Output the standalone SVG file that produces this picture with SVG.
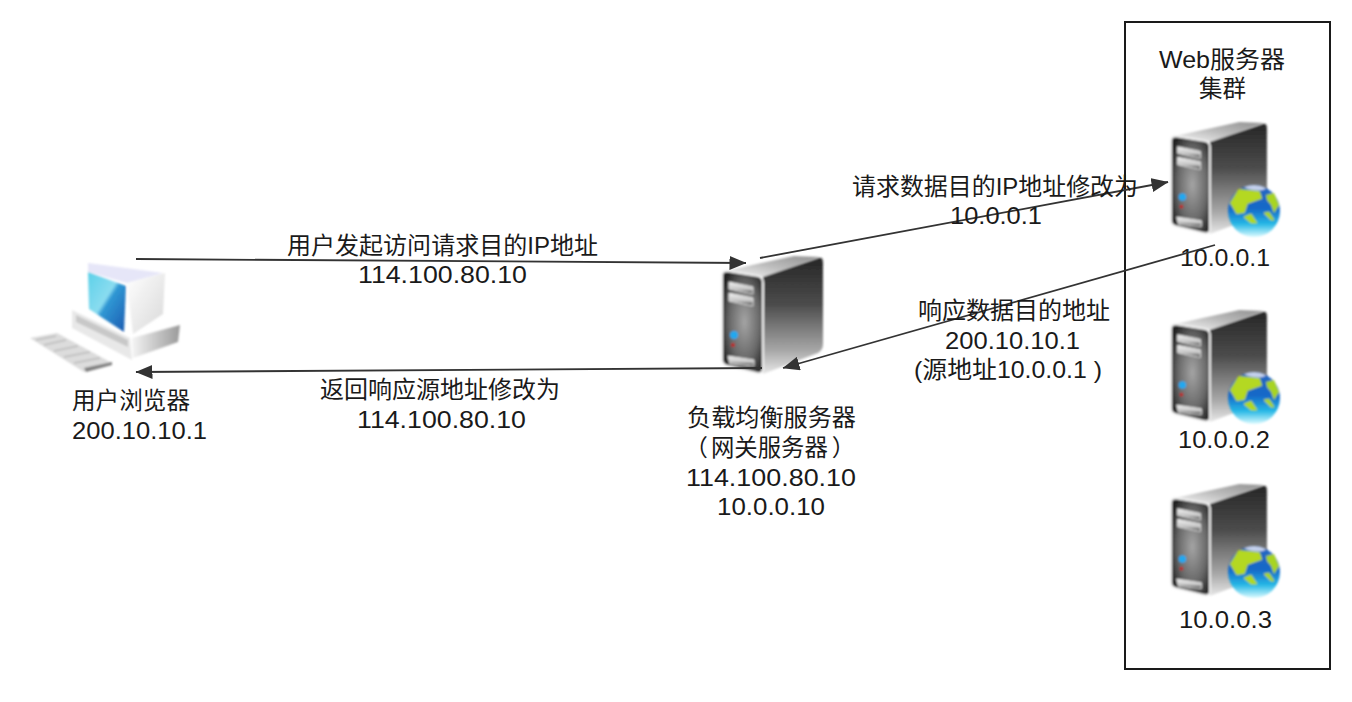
<svg xmlns="http://www.w3.org/2000/svg" width="1352" height="702" viewBox="0 0 1352 702">
<style>
text{font-family:"Liberation Sans","Noto Sans CJK SC",sans-serif;font-size:23.4px;fill:#1a1a1a}
.c{fill:none;stroke:#333;stroke-width:1.8;marker-end:url(#ah)}
</style>
<defs>
<marker id="ah" markerUnits="userSpaceOnUse" markerWidth="17" markerHeight="14" refX="16.5" refY="7" orient="auto"><path d="M0,0L17,7L0,14Z" fill="#333"/></marker>
<filter id="b" x="-10%" y="-10%" width="120%" height="120%"><feGaussianBlur stdDeviation="0.9"/></filter>
<filter id="b2" x="-10%" y="-10%" width="120%" height="120%"><feGaussianBlur stdDeviation="1.1"/></filter>
<linearGradient id="top" x1="0" y1="1" x2="1" y2="0"><stop offset="0" stop-color="#f8f8f8"/><stop offset=".5" stop-color="#bcbcbc"/><stop offset="1" stop-color="#909090"/></linearGradient>
<linearGradient id="side" x1="0" y1="0" x2="0" y2="1"><stop offset="0" stop-color="#262626"/><stop offset=".4" stop-color="#4c4c4c"/><stop offset=".8" stop-color="#a8a8a8"/><stop offset="1" stop-color="#e8e8e8"/></linearGradient>
<radialGradient id="front" cx=".55" cy=".5" r=".62"><stop offset="0" stop-color="#a4a4a4"/><stop offset=".6" stop-color="#686868"/><stop offset="1" stop-color="#222"/></radialGradient>
<linearGradient id="bar" x1="0" y1="0" x2="0" y2="1"><stop offset="0" stop-color="#f4f4f4"/><stop offset=".6" stop-color="#c4c4c4"/><stop offset="1" stop-color="#2a2a2a"/></linearGradient>
<linearGradient id="sea" x1="0" y1="0" x2="0" y2="1"><stop offset="0" stop-color="#2a68c0"/><stop offset=".45" stop-color="#1468c8"/><stop offset=".75" stop-color="#26b8e6"/><stop offset="1" stop-color="#dcfbff"/></linearGradient>
<linearGradient id="scr" x1="0" y1="0" x2="1" y2="1"><stop offset="0" stop-color="#5cd0e8"/><stop offset=".45" stop-color="#8adcf0"/><stop offset=".52" stop-color="#3098d4"/><stop offset="1" stop-color="#1a58b0"/></linearGradient>
<linearGradient id="base" x1="0" y1="0" x2="1" y2="0"><stop offset="0" stop-color="#f4f4f4"/><stop offset="1" stop-color="#9a9a9a"/></linearGradient>
<linearGradient id="mon" x1="0" y1="0" x2="1" y2="1"><stop offset="0" stop-color="#fff"/><stop offset="1" stop-color="#d8d8d8"/></linearGradient>
<g id="srv" filter="url(#b)">
<path d="M3,15L72,0L98,1L42,21Z" fill="url(#top)"/>
<path d="M41,21L97,2Q101,1 101,7L101,88Q101,94 96,97L41,118Z" fill="url(#side)"/>
<path d="M5,15L36,20Q41,21 41,27L41,112Q41,118 35,117L6,110Q0,109 0,103L0,20Q0,15 5,15Z" fill="url(#front)" stroke="#f0f0f0" stroke-width="2"/>
<path d="M7,26L31,31L31,38L7,33Z" fill="url(#bar)" stroke="#ddd" stroke-width="1" stroke-linejoin="round"/>
<path d="M7,37L31,42L31,50L7,45Z" fill="url(#bar)" stroke="#ddd" stroke-width="1" stroke-linejoin="round"/>
<path d="M6,100L32,104L32,110L8,108Z" fill="url(#bar)" stroke="#ddd" stroke-width="1" stroke-linejoin="round"/>
<circle cx="12" cy="79" r="4" fill="#20a8f0"/>
<circle cx="11" cy="89" r="2" fill="#c02020"/>
</g>
<g id="globe" filter="url(#b)">
<circle r="26" fill="url(#sea)"/>
<path d="M-23,-8L-15,-21L5,-19L7,-13L-7,-8L-10,1L-17,2Z" fill="#b4d820" stroke="#b4d820" stroke-linejoin="round" stroke-width="2"/>
<path d="M12,-16L20,-18L25,-6L20,2L17,-6L13,-11Z" fill="#a8d420"/>
<path d="M-10,6L-3,3L3,12L-3,12Z" fill="#b0d820" stroke="#b0d820" stroke-linejoin="round"/>
<path d="M10,2L15,1L20,9L17,9Z" fill="#a8d428" stroke="#a8d428" stroke-linejoin="round"/>
<path d="M-10,-24A26,26 0 0 1 12,-23C8,-19 -4,-20 -10,-24Z" fill="#c4d0ec"/>
</g>
</defs>
<rect width="1352" height="702" fill="#fff"/>
<g id="web-cluster"><rect x="1125" y="22" width="205" height="647" fill="none" stroke="#1a1a1a" stroke-width="2"/>
<text x="1159" y="68" textLength="126" lengthAdjust="spacingAndGlyphs">Web服务器</text>
<text x="1199" y="97" textLength="47" lengthAdjust="spacingAndGlyphs">集群</text></g>
<g id="browser">
<g filter="url(#b2)">
<path d="M30,338L57,333L112,363L84,372Z" fill="#dcdcdc"/>
<path d="M36,340L56,336M44,345L66,340M54,351L78,346M64,357L90,352M74,363L100,358" stroke="#bbb" stroke-width="1.5" fill="none"/>
<path d="M84,368L112,362L112,365L86,372Z" fill="#808080"/>
<path d="M132,338L180,325L178,342L133,358Z" fill="url(#base)"/>
<path d="M72,310L130,338L132,360L72,328Z" fill="#e8e8e8"/>
<path d="M76,315L128,340L128,347L76,322Z" fill="#c8c8c8"/>
<path d="M88,263L163,273L127,283L88,272Z" fill="#e6e6f8"/>
<path d="M127,283L165,273L163,314L133,334Z" fill="url(#mon)"/>
<path d="M88,272L126,286L124,332L89,309Z" fill="url(#scr)"/>
</g>
<text x="72" y="409" textLength="118" lengthAdjust="spacingAndGlyphs">用户浏览器</text>
<text x="72" y="439" textLength="135" lengthAdjust="spacingAndGlyphs">200.10.10.1</text></g>
<g id="lb">
<use href="#srv" transform="translate(722,256)"/>
<text x="687" y="426" textLength="169" lengthAdjust="spacingAndGlyphs">负载均衡服务器</text>
<text x="684.5" y="456">（<tspan dx="3">网关服务器</tspan><tspan dx="4">）</tspan></text>
<text x="686" y="486" textLength="170" lengthAdjust="spacingAndGlyphs">114.100.80.10</text>
<text x="717" y="515" textLength="108" lengthAdjust="spacingAndGlyphs">10.0.0.10</text></g>
<g id="web1"><use href="#srv" transform="translate(1171,122) scale(.95)"/><use href="#globe" transform="translate(1254,211)"/>
<text x="1180" y="266" textLength="90" lengthAdjust="spacingAndGlyphs">10.0.0.1</text></g>
<g id="web2"><use href="#srv" transform="translate(1171,310) scale(.95)"/><use href="#globe" transform="translate(1254,398)"/>
<text x="1178" y="448" textLength="92" lengthAdjust="spacingAndGlyphs">10.0.0.2</text></g>
<g id="web3"><use href="#srv" transform="translate(1171,484) scale(.95)"/><use href="#globe" transform="translate(1254,572)"/>
<text x="1179" y="628" textLength="93" lengthAdjust="spacingAndGlyphs">10.0.0.3</text></g>
<g id="connectors">
<path class="c" d="M136,259L746,263"/>
<path class="c" d="M760,258L1168,182"/>
<path class="c" d="M1215,245L783,368"/>
<path class="c" d="M762,368L136,372"/>
</g>
<g id="labels">
<text x="287" y="254" textLength="311" lengthAdjust="spacingAndGlyphs">用户发起访问请求目的IP地址</text>
<text x="358" y="283" textLength="169" lengthAdjust="spacingAndGlyphs">114.100.80.10</text>
<text x="320" y="398" textLength="240" lengthAdjust="spacingAndGlyphs">返回响应源地址修改为</text>
<text x="357" y="428" textLength="169" lengthAdjust="spacingAndGlyphs">114.100.80.10</text>
<text x="852" y="195" textLength="286" lengthAdjust="spacingAndGlyphs">请求数据目的IP地址修改为</text>
<text x="950" y="224" textLength="92" lengthAdjust="spacingAndGlyphs">10.0.0.1</text>
<text x="918" y="319" textLength="192" lengthAdjust="spacingAndGlyphs">响应数据目的地址</text>
<text x="945" y="349" textLength="135" lengthAdjust="spacingAndGlyphs">200.10.10.1</text>
<text x="914" y="378" textLength="188" lengthAdjust="spacingAndGlyphs">(源地址10.0.0.1 )</text>
</g>
</svg>
